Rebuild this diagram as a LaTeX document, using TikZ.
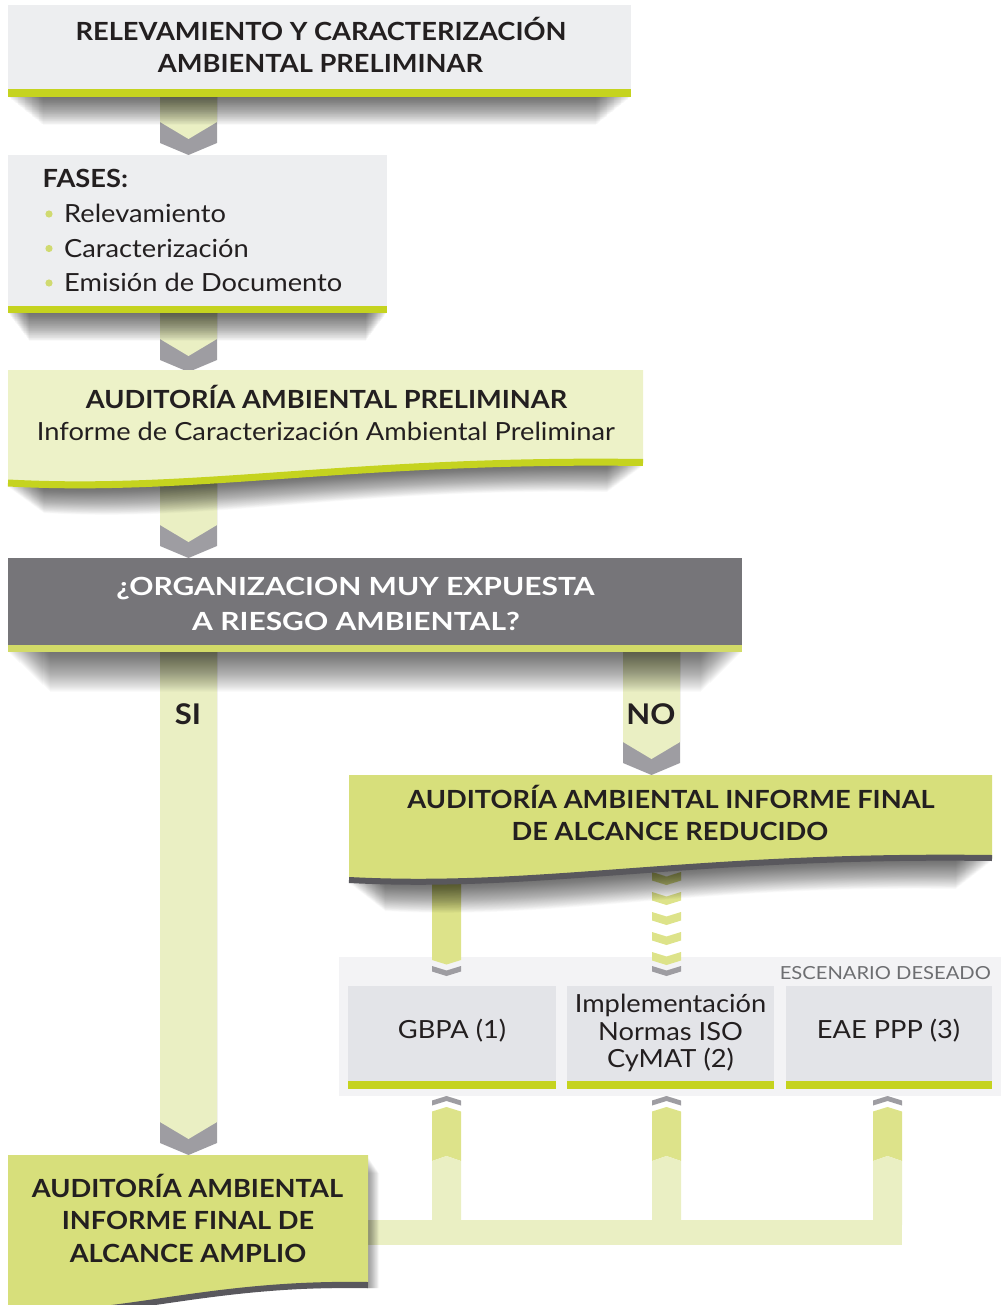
\documentclass[tikz,border=0pt]{standalone}
\usepackage{fontspec}
\setmainfont{Lato}[FakeStretch=1.09]
\newfontfamily\wideLato{Lato}[FakeStretch=1.2]
\newfontfamily\escLato{Lato}[FakeStretch=1.12]
\usetikzlibrary{calc}
\definecolor{txt}{HTML}{231F20}
\definecolor{boxgray}{HTML}{EDEEF0}
\definecolor{lime}{HTML}{C5D31F}
\definecolor{palegreen}{HTML}{EAEFC3}
\definecolor{midgreen}{HTML}{DDE38A}
\definecolor{chev}{HTML}{9E9DA2}
\definecolor{boxthreefill}{HTML}{EDF2C8}
\definecolor{darkbox}{HTML}{767579}
\definecolor{darkbar}{HTML}{D2DB68}
\definecolor{strong}{HTML}{D7DF7B}
\definecolor{waveline}{HTML}{59585D}
\definecolor{scenbg}{HTML}{F3F3F5}
\definecolor{scenbox}{HTML}{E3E4E8}
\definecolor{bulletc}{HTML}{D0DA70}
\definecolor{labelgray}{HTML}{6D6E71}

% downward band arrow with gray chevron tip: cx, top, point, half width, colour
\newcommand{\downArrow}[5]{%
  \fill[chev] (#1-#4,#2) -- (#1+#4,#2) -- (#1+#4,#3-12) -- (#1,#3) -- (#1-#4,#3-12) -- cycle;
  \fill[#5] (#1-#4,#2) -- (#1+#4,#2) -- (#1+#4,#3-33) -- (#1,#3-16) -- (#1-#4,#3-33) -- cycle;
}
% small chevron pointing down: cx, top(sides), thickness, colour
\newcommand{\chevDown}[4]{%
  \fill[#4] (#1-14.5,#2) -- (#1,#2+4.5) -- (#1+14.5,#2) -- (#1+14.5,#2+#3) -- (#1,#2+#3+4.5) -- (#1-14.5,#2+#3) -- cycle;
}
% small chevron pointing up: cx, top(centre), thickness, colour
\newcommand{\chevUp}[4]{%
  \fill[#4] (#1-14.5,#2+4.5) -- (#1,#2) -- (#1+14.5,#2+4.5) -- (#1+14.5,#2+4.5+#3) -- (#1,#2+#3) -- (#1-14.5,#2+4.5+#3) -- cycle;
}
% upward column below the scenario boxes: cx
\newcommand{\upColumn}[1]{%
  \chevUp{#1}{1096}{5}{chev}
  \fill[midgreen] (#1-14.5,1111.5) -- (#1,1107) -- (#1+14.5,1111.5) -- (#1+14.5,1161) -- (#1,1156) -- (#1-14.5,1161) -- cycle;
  \fill[palegreen] (#1-14.5,1161) -- (#1,1156) -- (#1+14.5,1161) -- (#1+14.5,1225) -- (#1-14.5,1225) -- cycle;
}
% soft stacked shadow below a shape: centre x, dy step, path
\newcommand{\softShadow}[3]{%
  \foreach \i in {1,...,40}{%
    \fill[black, opacity=0.018, shift={(#1,#2*\i)}, xscale={1-0.0028*\i}, shift={(-#1,0)}] #3;
  }%
}

\begin{document}
\begin{tikzpicture}[x=1pt,y=-1pt,
  bt/.style={font=\fontsize{25}{30}\selectfont\bfseries, text=txt, inner sep=0pt, anchor=base},
  rt/.style={font=\fontsize{25}{30}\selectfont, text=txt, inner sep=0pt, anchor=base},
  wt/.style={font=\wideLato\fontsize{25}{30}\selectfont\bfseries, text=white, inner sep=0pt, anchor=base},
  lt/.style={font=\escLato\fontsize{18}{22}\selectfont, text=labelgray, inner sep=0pt, anchor=base east},
  bigt/.style={font=\fontsize{28.5}{32}\selectfont\bfseries, text=txt, inner sep=0pt, anchor=base},
  plainbox/.style={rectangle, inner sep=0pt, draw=none}]
\useasboundingbox (0,0) rectangle (1001,1305);

% ---------- scenario background ----------
\fill[scenbg] (339,957) rectangle (1001,1096);

% ---------- connectors ----------
\downArrow{188.5}{95}{155}{28.5}{palegreen}
\downArrow{188.5}{311}{372}{28.5}{palegreen}
\downArrow{188.5}{475}{558}{28.5}{palegreen}
\downArrow{188.5}{648}{1155}{28.5}{palegreen}
\downArrow{651.5}{648}{775}{28.5}{palegreen}

% from reduced-scope box to the scenario
\fill[midgreen] (432,870) -- (461,870) -- (461,960) -- (446.5,964.5) -- (432,960) -- cycle;
\chevDown{446.5}{966}{5.5}{chev}
\foreach \t in {872,892,912,932,952} { \chevDown{666.5}{\t}{8.5}{midgreen} }
\chevDown{666.5}{966}{5.5}{chev}

% from scenario back to the wide-scope box
\upColumn{446.5}
\upColumn{666.5}
\upColumn{887.5}
\fill[palegreen] (360,1220) rectangle (902,1245);

% ---------- shadows ----------
\softShadow{319.5}{0.7}{(8,5) rectangle (631,97)}
\softShadow{197.5}{0.7}{(8,155) rectangle (387,313)}
\softShadow{325.5}{0.65}{(8,370) -- (643,370) -- (643,466) .. controls (350,462) and (200,497) .. (8,487) -- cycle}
\softShadow{380}{1.0}{(8,558) rectangle (742,652)}
\softShadow{670.5}{0.7}{(349,775) -- (992,775) -- (992,861) .. controls (690,857) and (542,893) .. (349,883) -- cycle}
\foreach \i in {1,...,20}{\fill[black, opacity=0.025] (8+0.55*\i,1157+0.8*\i) -- (368+0.55*\i,1157+0.8*\i) -- (368+0.55*\i,1288) -- (8,1288) -- cycle;}

% ---------- boxes ----------
\node[plainbox, fill=boxgray, minimum width=623pt, minimum height=84pt, anchor=north west] (b1) at (8,5) {};
\fill[lime] (b1.south west) rectangle ++(623,8);

\node[plainbox, fill=boxgray, minimum width=379pt, minimum height=151pt, anchor=north west] (b2) at (8,155) {};
\fill[lime] (b2.south west) rectangle ++(379,7);

\fill[boxthreefill] (8,370) -- (643,370) -- (643,462.5) .. controls (350,458.5) and (200,493) .. (8,483) -- cycle;
\draw[lime, line width=7pt] (643,462.5) .. controls (350,458.5) and (200,493) .. (8,483);

\node[plainbox, fill=darkbox, minimum width=734pt, minimum height=87pt, anchor=north west] (b4) at (8,558) {};
\fill[darkbar] (b4.south west) rectangle ++(734,7);

\fill[strong] (349,775) -- (992,775) -- (992,858) .. controls (690,854) and (542,890) .. (349,880) -- cycle;
\draw[waveline, line width=6pt] (992,858) .. controls (690,854) and (542,890) .. (349,880);

\node[plainbox, fill=scenbox, minimum width=208pt, minimum height=95pt, anchor=north west] (s1) at (348,986) {};
\fill[lime] (s1.south west) rectangle ++(208,8);
\node[plainbox, fill=scenbox, minimum width=207pt, minimum height=95pt, anchor=north west] (s2) at (567,986) {};
\fill[lime] (s2.south west) rectangle ++(207,8);
\node[plainbox, fill=scenbox, minimum width=206pt, minimum height=95pt, anchor=north west] (s3) at (786,986) {};
\fill[lime] (s3.south west) rectangle ++(206,8);

\fill[strong] (8,1155) -- (368,1155) -- (368,1285) .. controls (202,1282) and (116,1320) .. (8,1312) -- cycle;
\draw[waveline, line width=6pt] (368,1285) .. controls (202,1282) and (116,1320) .. (8,1312);

% ---------- texts ----------
\node[bt] (t1a) at (321,41) {RELEVAMIENTO Y CARACTERIZACIÓN};
\node[bt] (t1b) at (320.5,73) {AMBIENTAL PRELIMINAR};

\node[bt, anchor=base west] (t2) at (42.5,188) {FASES:};
\fill[bulletc] (49,214) circle (3.6);
\fill[bulletc] (49,248.5) circle (3.6);
\fill[bulletc] (49,283) circle (3.6);
\node[rt, anchor=base west] (t2a) at (64,223) {Relevamiento};
\node[rt, anchor=base west] (t2b) at (64,257.5) {Caracterización};
\node[rt, anchor=base west] (t2c) at (64,292) {Emisión de Documento};

\node[bt] (t3a) at (326.5,408) {AUDITORÍA AMBIENTAL PRELIMINAR};
\node[rt] (t3b) at (326,440) {Informe de Caracterización Ambiental Preliminar};

\node[wt] (t4a) at (355.5,595) {¿ORGANIZACION MUY EXPUESTA};
\node[wt] (t4b) at (356,630) {A RIESGO AMBIENTAL?};

\node[bigt] (si) at (188,724) {SI};
\node[bigt] (no) at (651,724) {NO};

\node[bt] (t5a) at (671,808) {AUDITORÍA AMBIENTAL INFORME FINAL};
\node[bt] (t5b) at (670,840) {DE ALCANCE REDUCIDO};

\node[lt] (esc) at (991,979) {ESCENARIO DESEADO};
\node[rt] (g1) at (452,1038) {GBPA (1)};
\node[rt] (g2a) at (670.5,1012) {Implementación};
\node[rt] (g2b) at (670.5,1040) {Normas ISO};
\node[rt] (g2c) at (670.5,1067) {CyMAT (2)};
\node[rt] (g3) at (888.5,1038) {EAE PPP (3)};

\node[bt] (t6a) at (187.5,1197) {AUDITORÍA AMBIENTAL};
\node[bt] (t6b) at (188,1229) {INFORME FINAL DE};
\node[bt] (t6c) at (188,1262) {ALCANCE AMPLIO};
\end{tikzpicture}
\end{document}
